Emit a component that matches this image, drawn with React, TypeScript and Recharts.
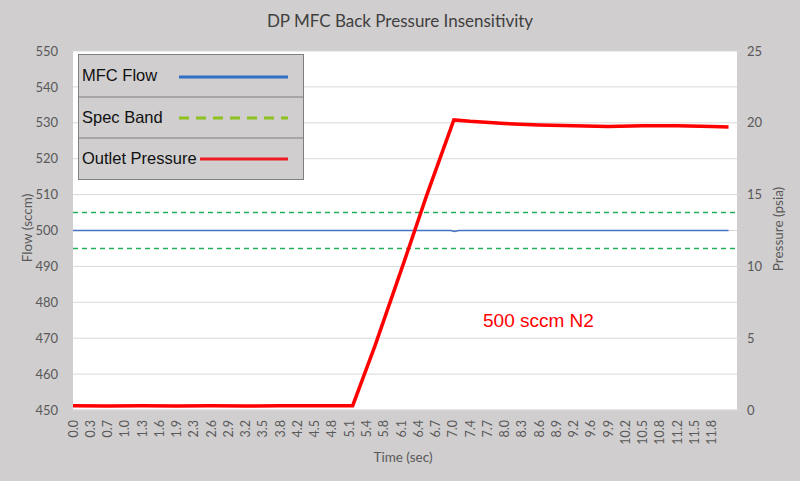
import React from 'react';
import { LineChart, Line, XAxis, YAxis, CartesianGrid, ReferenceLine, Legend, Customized } from 'recharts';

// X tick labels (time, sec) — one per category slot
const tickLabels = ['0.0','0.3','0.7','1.0','1.3','1.6','1.9','2.3','2.6','2.9','3.2','3.5','3.8','4.2','4.5','4.8','5.1','5.4','5.8','6.1','6.4','6.7','7.0','7.4','7.7','8.0','8.3','8.6','8.9','9.2','9.6','9.9','10.2','10.5','10.8','11.2','11.5','11.8'];
const tickIdx = tickLabels.map((_, i) => i);

// Outlet pressure (psia), positions in tick-slot units
const pressX = [0, 2, 4, 6, 8, 10, 12, 14, 16.2, 17.5, 19.2, 20.5, 22.06, 23, 25, 27, 29, 31, 33, 35, 37, 37.97];
const pressY = [0.3, 0.28, 0.3, 0.27, 0.3, 0.28, 0.3, 0.3, 0.3, 4.5, 10.4, 15.0, 20.2, 20.1, 19.95, 19.85, 19.8, 19.75, 19.8, 19.8, 19.75, 19.7];

// MFC flow (sccm)
const flowX = [0, 21.9, 22.1, 22.35, 37.97];
const flowY = [500, 500, 499.7, 500, 500];

// Spec band (sccm)
const specUpper = 505;
const specLower = 495;

const flowTicks = [450, 460, 470, 480, 490, 500, 510, 520, 530, 540, 550];
const pressTicks = [0, 5, 10, 15, 20, 25];

const pressData = pressX.map((x, i) => ({ x, p: pressY[i] }));
const flowData = flowX.map((x, i) => ({ x, f: flowY[i] }));

const BG = '#d0cecf';
const AXIS_FONT = 'Lato, "Open Sans", sans-serif';
const TXT = '#595959';

const XTick = (props: any) => {
  const { x, y, payload } = props;
  return (
    <text
      transform={`translate(${x},${y}) rotate(-90)`}
      textAnchor="end"
      dominantBaseline="central"
      fontFamily={AXIS_FONT}
      fontSize={12.5}
      fill={TXT}
    >
      {tickLabels[payload.value]}
    </text>
  );
};

const LegendBox = () => (
  <svg width={226} height={126} style={{ display: 'block' }}>
    <rect x={0.5} y={0.5} width={225} height={125} fill={BG} stroke="#7f7f7f" strokeWidth={1} />
    <line x1={0} x2={226} y1={43} y2={43} stroke="#7f7f7f" strokeWidth={1} />
    <line x1={0} x2={226} y1={84} y2={84} stroke="#7f7f7f" strokeWidth={1} />
    <text x={4} y={27} fontFamily='"Liberation Sans", Arial, sans-serif' fontSize={16.5} fill="#111">MFC Flow</text>
    <line x1={101} x2={210} y1={23} y2={23} stroke="#2f6fc4" strokeWidth={3} />
    <text x={4} y={69} fontFamily='"Liberation Sans", Arial, sans-serif' fontSize={16.5} fill="#111">Spec Band</text>
    <line x1={101} x2={210} y1={64} y2={64} stroke="#8dc21f" strokeWidth={3} strokeDasharray="10 7" />
    <text x={4} y={110} fontFamily='"Liberation Sans", Arial, sans-serif' fontSize={16.5} fill="#111">Outlet Pressure</text>
    <line x1={122} x2={210} y1={105} y2={105} stroke="#ee1c24" strokeWidth={3} />
  </svg>
);

const Texts = () => (
  <g>
    <text x={400} y={27} textAnchor="middle" fontFamily={AXIS_FONT} fontSize={17} fill="#404040">
      DP MFC Back Pressure Insensitivity
    </text>
    <text transform="translate(27,228) rotate(-90)" textAnchor="middle" dominantBaseline="central" fontFamily={AXIS_FONT} fontSize={13.5} fill={TXT}>
      Flow (sccm)
    </text>
    <text transform="translate(778,229) rotate(-90)" textAnchor="middle" dominantBaseline="central" fontFamily={AXIS_FONT} fontSize={13.5} fill={TXT}>
      Pressure (psia)
    </text>
    <text x={403} y={462} textAnchor="middle" fontFamily={AXIS_FONT} fontSize={13.5} fill={TXT}>
      Time (sec)
    </text>
    <text x={483} y={327} fontFamily='"Liberation Sans", Arial, sans-serif' fontSize={19} fill="#ff0000">
      500 sccm N2
    </text>
  </g>
);

export default function App() {
  return (
    <div style={{ position: 'absolute', left: 0, top: 0, width: 800, height: 481, background: BG }}>
      <LineChart width={800} height={481} margin={{ top: 51, right: 0, bottom: 0, left: 0 }}>
        <CartesianGrid yAxisId="left" vertical={false} stroke="#d9d9d9" fill="#ffffff" />
        <XAxis
          type="number"
          dataKey="x"
          domain={[0, 38.46]}
          ticks={tickIdx}
          interval={0}
          tick={<XTick />}
          tickSize={0}
          tickMargin={10}
          axisLine={{ stroke: '#d9d9d9' }}
          tickLine={false}
          height={71}
          allowDataOverflow
        />
        <YAxis
          yAxisId="left"
          domain={[450, 550]}
          ticks={flowTicks}
          interval={0}
          width={73}
          tickSize={0}
          tickMargin={15}
          axisLine={false}
          tickLine={false}
          tick={{ fontFamily: AXIS_FONT, fontSize: 13, fill: TXT }}
        />
        <YAxis
          yAxisId="right"
          orientation="right"
          domain={[0, 25]}
          ticks={pressTicks}
          interval={0}
          width={63}
          tickSize={4}
          tickMargin={6}
          axisLine={false}
          tickLine={{ stroke: '#d9d9d9' }}
          tick={{ fontFamily: AXIS_FONT, fontSize: 13, fill: TXT }}
        />
        <ReferenceLine yAxisId="left" y={specUpper} stroke="#22b05a" strokeWidth={1.6} strokeDasharray="5 4" />
        <ReferenceLine yAxisId="left" y={specLower} stroke="#22b05a" strokeWidth={1.6} strokeDasharray="5 4" />
        <Line
          yAxisId="left"
          data={flowData}
          dataKey="f"
          type="linear"
          stroke="#4472c4"
          strokeWidth={1.5}
          dot={false}
          isAnimationActive={false}
        />
        <Line
          yAxisId="right"
          data={pressData}
          dataKey="p"
          type="linear"
          stroke="#ff0000"
          strokeWidth={3.5}
          dot={false}
          isAnimationActive={false}
        />
        <Legend
          layout="horizontal"
          verticalAlign="middle"
          align="center"
          content={<LegendBox />}
          wrapperStyle={{ position: 'absolute', left: 78, top: 54, width: 226, height: 126 }}
        />
        <Customized component={Texts} />
      </LineChart>
    </div>
  );
}
